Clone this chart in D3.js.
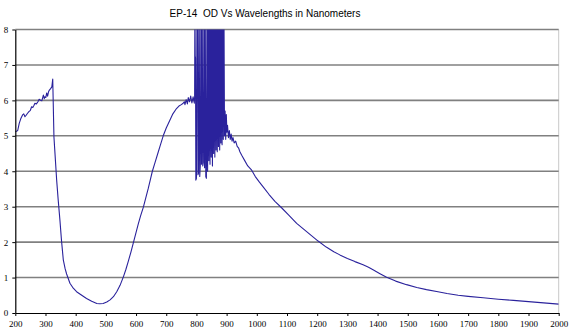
<!DOCTYPE html>
<html><head><meta charset="utf-8">
<script src="https://cdn.jsdelivr.net/npm/d3@7"></script>
<style>
html,body{margin:0;padding:0;background:#fff;}
svg{display:block;}
</style></head>
<body>
<svg id="chart" width="574" height="336"></svg>
<script>
const title = "EP-14  OD Vs Wavelengths in Nanometers";
const xTicks = [200,300,400,500,600,700,800,900,1000,1100,1200,1300,1400,1500,1600,1700,1800,1900,2000];
const yTicks = [0,1,2,3,4,5,6,7,8];

const wavelength = [
 200,204,208,213,218,224,228,232,236,240,245,250,254,258,262,265,270,275,279,284,288,293,296,298,301,304,307,310,313,317,321,324,
 328,337,342,348,353,359,365,370,381,392,403,420,436,453,470,480,491,503,514,525,536,547,558,566,574,583,591,599,607,615,624,632,640,647,654,663,672,681,690,700,712,722,734,742,750,756,760,762,766,770,773,777,781,785,789,793,
 794,795,796,797,798,800,802,804,805,807,809,811,813,815,817,819,821,823,825,827,829,831,833,835,837,839,841,843,845,847,849,851,853,855,857,859,861,863,865,867,869,871,873,875,877,879,881,883,885,887,889,891,893,895,897,899,901,903,906,909,912,915,918,921,925,930,935,940,944,
 950,960,970,983,995,1008,1021,1040,1060,1082,1105,1132,1160,1180,1203,1230,1255,1275,1300,1325,1352,1370,1385,1408,1430,1460,1496,1530,1562,1600,1630,1667,1700,1750,1800,1850,1900,1950,2000
];
const od = [
 5.12,5.13,5.15,5.35,5.48,5.59,5.62,5.54,5.58,5.63,5.68,5.72,5.82,5.80,5.86,5.92,5.90,5.96,6.03,6.00,5.99,6.15,6.05,6.10,6.08,6.21,6.12,6.24,6.29,6.33,6.38,6.60,
 4.97,3.75,3.20,2.60,2.05,1.50,1.25,1.10,0.84,0.70,0.60,0.50,0.41,0.33,0.27,0.26,0.27,0.31,0.37,0.46,0.60,0.78,1.02,1.22,1.45,1.72,1.98,2.24,2.50,2.74,2.98,3.24,3.50,3.75,4.00,4.25,4.50,4.75,5.00,5.22,5.44,5.62,5.77,5.84,5.88,5.92,5.96,5.88,6.02,5.90,6.08,5.96,6.12,5.93,6.10,5.92,
 6.10,9.00,7.25,7.20,3.75,3.80,9.00,9.00,3.90,3.95,9.00,3.85,4.20,9.00,4.20,9.00,4.15,4.25,9.00,4.10,9.00,3.85,3.80,9.00,4.00,9.00,4.30,9.00,4.20,9.00,4.40,9.00,4.15,9.00,4.50,9.00,4.40,9.00,4.60,9.00,4.55,9.00,4.70,9.00,4.60,9.00,4.80,9.00,4.75,9.00,4.90,9.00,5.00,5.70,4.90,5.60,5.10,5.30,4.95,5.15,4.90,5.05,4.85,4.95,4.80,4.85,4.70,4.65,4.55,
 4.45,4.30,4.15,4.03,3.85,3.70,3.56,3.35,3.15,2.97,2.77,2.53,2.33,2.19,2.03,1.86,1.73,1.64,1.54,1.45,1.36,1.29,1.22,1.11,1.01,0.90,0.80,0.72,0.66,0.60,0.55,0.50,0.47,0.43,0.39,0.355,0.32,0.285,0.25
];

const svg = d3.select("#chart");
const x = d3.scaleLinear().domain([200,2000]).range([15.3,558.7]);
const y = d3.scaleLinear().domain([0,8]).range([313,29.5]);

// right border
svg.append("line").attr("x1",x(2000)).attr("x2",x(2000)).attr("y1",y(8)).attr("y2",y(0))
  .attr("stroke","#c8c8c8").attr("stroke-width",1);

// gridlines
svg.append("g").selectAll("line").data(yTicks.filter(d=>d>0)).join("line")
  .attr("x1",x(200)).attr("x2",x(2000)).attr("y1",d=>y(d)).attr("y2",d=>y(d))
  .attr("stroke","#808080").attr("stroke-width",1.6);

// clip
svg.append("clipPath").attr("id","clip").append("rect")
  .attr("x",x(200)).attr("y",y(8)).attr("width",x(2000)-x(200)).attr("height",y(0)-y(8));

const line = d3.line().x((d,i)=>x(wavelength[i])).y(d=>y(d));
svg.append("path").datum(od).attr("d",line).attr("clip-path","url(#clip)")
  .attr("fill","none").attr("stroke","#2a229c").attr("stroke-width",1.1).attr("stroke-linejoin","round");

// x axis minor ticks
const gx = svg.append("g").attr("transform",`translate(0,${y(0)})`);
gx.call(d3.axisBottom(x).tickValues(d3.range(200,2001,10)).tickSize(2).tickFormat(""))
  .call(g=>g.select(".domain").remove());
gx.call(d3.axisBottom(x).tickValues(xTicks).tickSize(3).tickSizeOuter(0).tickFormat(d3.format("d")))
  .call(g=>g.selectAll("text").attr("font-family","'Liberation Serif', serif").attr("font-size","9px").attr("fill","#000").attr("dy","0.9em"));
gx.selectAll("line").attr("stroke","#000");
gx.selectAll(".domain").attr("stroke","#000").attr("stroke-width",1.2);

// y axis
const gy = svg.append("g").attr("transform",`translate(${x(200)},0)`);
gy.call(d3.axisLeft(y).tickValues(d3.range(0.5,8,1)).tickSize(2).tickFormat(""))
  .call(g=>g.select(".domain").remove());
gy.call(d3.axisLeft(y).tickValues(yTicks).tickSize(3).tickSizeOuter(0).tickFormat(d3.format("d")))
  .call(g=>g.selectAll("text").attr("font-family","'Liberation Serif', serif").attr("font-size","9px").attr("fill","#000").attr("x",-7));
gy.selectAll("line").attr("stroke","#000");
gy.selectAll(".domain").attr("stroke","#000").attr("stroke-width",1.2);

// title
svg.append("text").attr("x",265).attr("y",17).attr("text-anchor","middle")
  .style("white-space","pre")
  .attr("font-family","'Liberation Sans', Arial, sans-serif").attr("font-size","10px").attr("fill","#000")
  .text(title);
</script>
</body></html>
